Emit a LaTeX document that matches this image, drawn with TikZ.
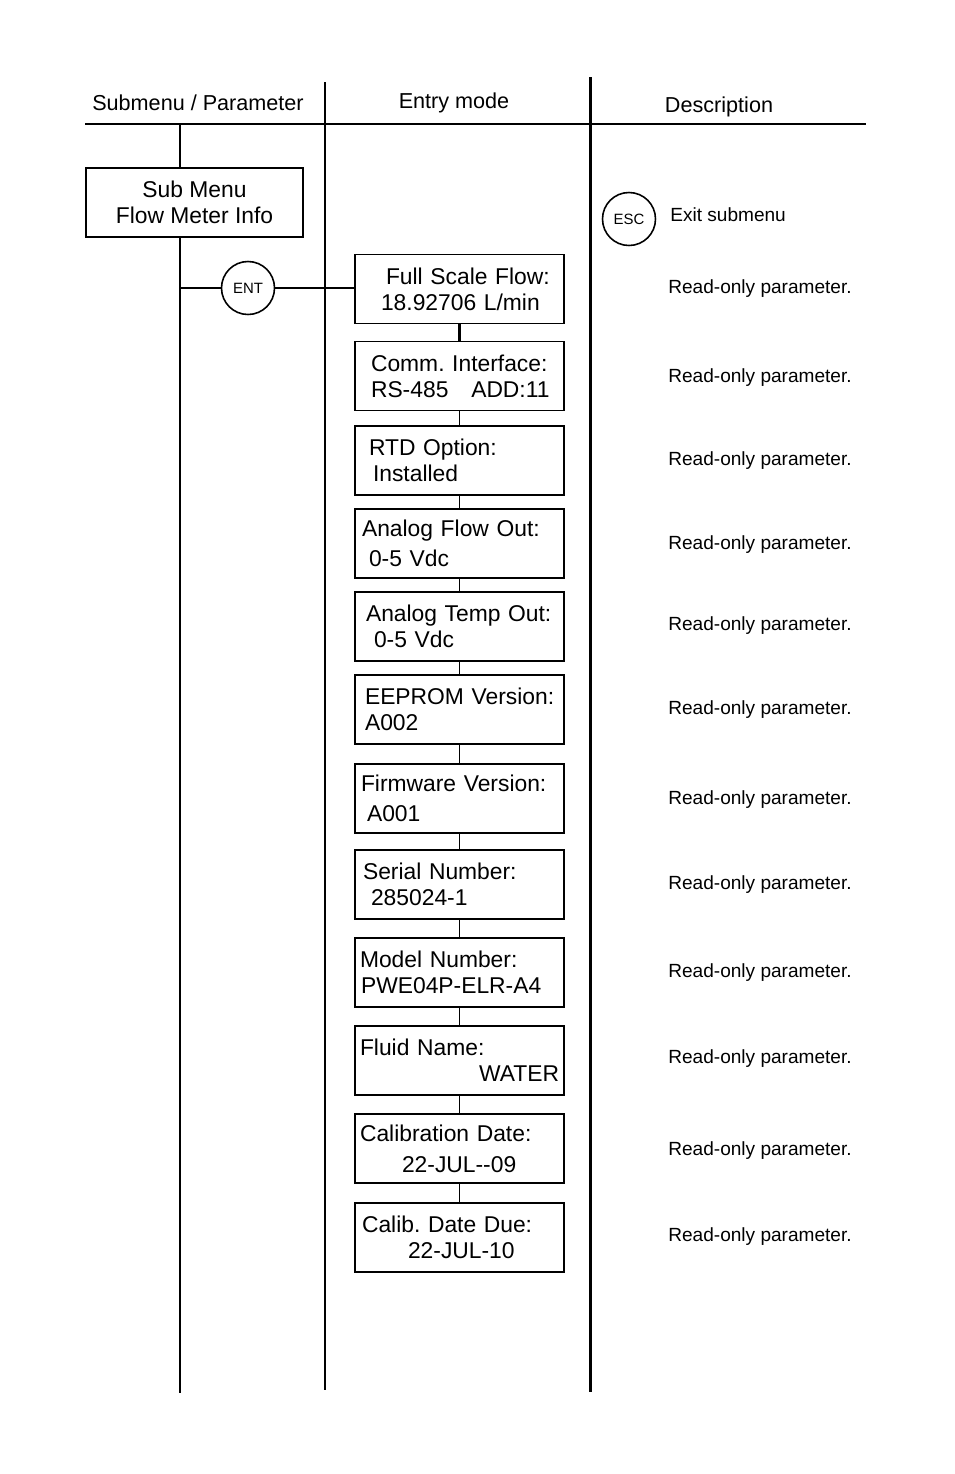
\documentclass[tikz,border=0pt]{standalone}
\usepackage{fontspec}
\setmainfont{Liberation Sans}
\usetikzlibrary{positioning}
\frenchspacing

\newcommand{\ind}[1]{\hspace*{#1cm}}

\begin{document}
\begin{tikzpicture}[
    x=0.02cm, y=-0.02cm,
    rule/.style={line width=1.7pt},
    head/.style={font=\fontsize{12.3}{14}\selectfont},
    submenu/.style={draw, line width=0.8pt, minimum width=4.34cm, minimum height=1.38cm,
                    align=center, inner sep=0pt, font=\fontsize{13}{14.7}\selectfont},
    entry/.style={draw, line width=0.8pt, text width=3.98cm, inner xsep=0.1cm, inner ysep=0pt,
                  minimum height=1.38cm, align=left, font=\fontsize{13}{14.7}\selectfont},
    key/.style={draw, circle, line width=0.9pt, minimum size=1.06cm, inner sep=0pt,
                font=\fontsize{8.5}{10}\selectfont},
    desc/.style={anchor=west, inner sep=0pt, font=\fontsize{10.85}{13}\selectfont},
    link/.style={line width=1.2pt},
]
  \useasboundingbox (0,0) rectangle (954,1474);

  % column headings and rules
  \node[head] (hsub) at (198,103) {Submenu / Parameter};
  \node[head] (hentry) at (454,103) {Entry mode};
  \node[head] (hdesc) at (719,107) {Description};

  \coordinate (hl) at (85,124);
  \coordinate (hr) at (866,124);
  \coordinate (c1top) at (325,82);
  \coordinate (c1bot) at (325,1390);
  \coordinate (c2top) at (590,77);
  \coordinate (c2bot) at (590,1392);
  \draw[line width=1.2pt] (hl) -- (hr);
  \draw[rule] (c1top) -- (c1bot);
  \draw[rule] (c2top) -- (c2bot);

  % submenu column
  \node[submenu] (sub) at (194.5,202.5) {Sub Menu\\Flow Meter Info};
  \coordinate (ltop) at (180,124);
  \coordinate (lbot) at (180,1393);
  \draw[rule] (ltop) -- (ltop |- sub.north);
  \draw[rule] (lbot |- sub.south) -- (lbot);

  \node[key] (ent) at (248,288) {ENT};
  \node[key] (esc) at (629,219) {ESC};
  \node[desc] (escd) at (670,215) {Exit submenu};

  % entry column
  \node[entry] (fsf) at (459.5,289)
    {\ind{0.52}Full Scale Flow:\\\ind{0.42}18.92706 L/min};
  \node[entry] (comm) at (459.5,376)
    {\ind{0.22}Comm. Interface:\\\ind{0.22}RS-485\ \ \ ADD:11};
  \node[entry] (rtd) at (459.5,460.5)
    {\ind{0.18}RTD Option:\\\ind{0.26}Installed};
  \node[entry] (aflow) at (459.5,543.5)
    {\ind{0.04}Analog Flow Out:\\[0.08cm]\ind{0.18}0-5 Vdc};
  \node[entry] (atemp) at (459.5,626.5)
    {\ind{0.12}Analog Temp Out:\\\ind{0.28}0-5 Vdc};
  \node[entry] (eeprom) at (459.5,709.5)
    {\ind{0.1}EEPROM Version:\\\ind{0.1}A002};
  \node[entry] (firm) at (459.5,798.5)
    {\ind{0.02}Firmware Version:\\[0.08cm]\ind{0.14}A001};
  \node[entry] (serial) at (459.5,884.5)
    {\ind{0.06}Serial Number:\\\ind{0.22}285024-1};
  \node[entry] (model) at (459.5,972.5)
    {Model Number:\\\ind{0.02}PWE04P-ELR-A4};
  \node[entry] (fluid) at (459.5,1060.5)
    {Fluid Name:\\\hfill WATER\ind{0.04}};
  \node[entry] (caldate) at (459.5,1148.5)
    {Calibration Date:\\[0.1cm]\ind{0.84}22-JUL-{}-09};
  \node[entry] (caldue) at (459.5,1237.5)
    {\ind{0.04}Calib. Date Due:\\\ind{0.96}22-JUL-10};

  % ENT branch
  \coordinate (entl) at (180,288);
  \draw[link] (entl) -- (ent.west);
  \draw[link] (ent.east) -- (ent.east -| fsf.west);

  \draw[line width=1.6pt] (fsf) -- (comm);
  \foreach \i/\j in {comm/rtd, rtd/aflow, aflow/atemp, atemp/eeprom, eeprom/firm,
                     firm/serial, serial/model, model/fluid, fluid/caldate, caldate/caldue}
    \draw[line width=0.8pt] (\i) -- (\j);

  % descriptions
  \foreach \n/\y in {fsf/289, comm/378, rtd/461, aflow/545, atemp/626, eeprom/710,
                     firm/800, serial/885, model/973, fluid/1059, caldate/1151, caldue/1237}
    \node[desc] (d\n) at (668,\y) {Read-only parameter.};
\end{tikzpicture}
\end{document}
